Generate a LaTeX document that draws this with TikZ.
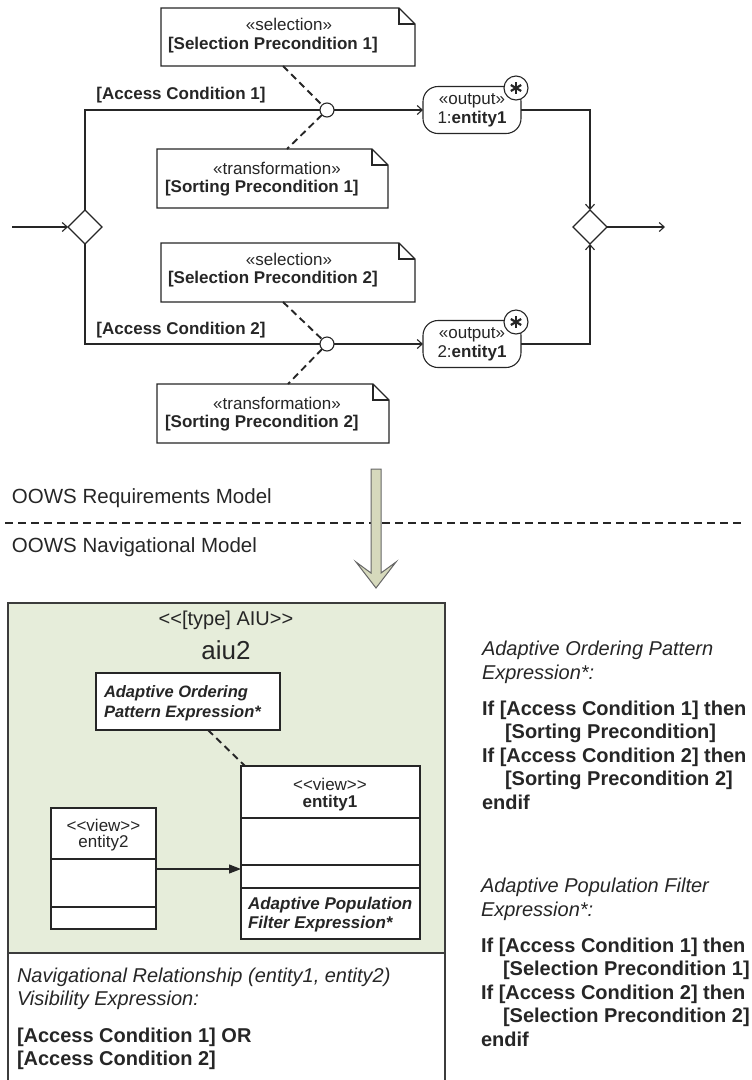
\documentclass[tikz,border=0pt]{standalone}
\usepackage{fontspec}
\setmainfont{Liberation Sans}
\usetikzlibrary{arrows.meta,shapes.geometric,calc}
\definecolor{aiugreen}{HTML}{E6EDDA}
\definecolor{arrowfill}{HTML}{D6D9BC}
\definecolor{ink}{HTML}{262626}
\newcommand\dlt{<\kern0pt<}
\newcommand\dgt{>\kern0pt>}
\newcommand\fs[2]{\fontsize{#1}{#2}\selectfont}
\newcommand\notefold[1]{%
  \draw[line, fill=white] (#1.north west) -- ([xshift=-16pt]#1.north east) -- ([yshift=-16pt]#1.north east) -- (#1.south east) -- (#1.south west) -- cycle;
  \draw[line] ([xshift=-16pt]#1.north east) -- ([xshift=-16pt,yshift=-16pt]#1.north east) -- ([yshift=-16pt]#1.north east);}
\newcommand\multstar[1]{%
  \draw[ink, line width=2.2pt] ([yshift=6pt]#1.center) -- ([yshift=-6pt]#1.center);
  \draw[ink, line width=2.2pt] ($(#1.center)+(30:6)$) -- ($(#1.center)+(210:6)$);
  \draw[ink, line width=2.2pt] ($(#1.center)+(150:6)$) -- ($(#1.center)+(330:6)$);}
\begin{document}
\begin{tikzpicture}[x=1pt,y=-1pt,
  every node/.style={inner sep=0pt, outer sep=0pt, text=ink},
  line/.style={draw=ink, line width=1.1pt},
  flow/.style={line, -{Straight Barb[length=5pt,width=9pt]}},
  dline/.style={draw=ink, line width=1.9pt, dash pattern=on 7pt off 4.5pt},
  decision/.style={diamond, draw=ink, line width=1.1pt, fill=white, minimum width=34pt, minimum height=34pt, aspect=1},
  fork/.style={circle, draw=ink, line width=1.1pt, fill=white, minimum size=14pt},
  pin/.style={rectangle, rounded corners=15pt, draw=ink, line width=1.1pt, fill=white, minimum width=98pt, minimum height=47pt, align=center, font=\fs{17}{19}},
  mult/.style={circle, draw=ink, line width=1.1pt, fill=white, minimum size=24pt},
  stereo/.style={font=\fs{17}{19}},
  boldtxt/.style={font=\bfseries\fs{17}{19}},
  classbox/.style={rectangle, draw=ink, line width=1.1pt, fill=white},
  bigtxt/.style={font=\fs{20}{23.5}, anchor=west, align=left}]
\useasboundingbox (0,0) rectangle (752,1080);

% ---------- activity part ----------
\node[decision] (d1) at (85,227) {};
\coordinate (start) at (12,227);
\draw[flow] (start) -- (d1.west);

\node[fork] (f1) at (327,110) {};
\node[fork] (f2) at (327,344) {};
\draw[line] (d1.north) |- (f1.west);
\draw[line] (d1.south) |- (f2.west);

\node[boldtxt] (ac1) at (181,95) {[Access Condition 1]};
\node[boldtxt] (ac2) at (181,330.5) {[Access Condition 2]};

\node[pin] (o1) at (472,110) {«output»\\1:\textbf{entity1}};
\node[mult] (m1) at (516,88) {}; \multstar{m1}
\node[pin] (o2) at (472,344) {«output»\\2:\textbf{entity1}};
\node[mult] (m2) at (516,322) {}; \multstar{m2}

\draw[flow] (f1.east) -- (o1.west);
\draw[flow] (f2.east) -- (o2.west);
\node[decision] (d2) at (590,227) {};
\draw[flow] (o1.east) -| (d2.north);
\draw[flow] (o2.east) -| (d2.south);
\coordinate (end) at (665,227);
\draw[flow] (d2.east) -- (end);

% notes
\node[minimum width=254pt, minimum height=58pt] (sel1) at (288,37) {};
\notefold{sel1}
\node[stereo] (sel1s) at (289,24) {«selection»};
\node[boldtxt, anchor=west] (sel1t) at (168,45) {[Selection Precondition 1]};

\node[minimum width=231pt, minimum height=59pt] (sort1) at (272.5,178.5) {};
\notefold{sort1}
\node[stereo] (sort1s) at (277,168) {«transformation»};
\node[boldtxt, anchor=west] (sort1t) at (165,188) {[Sorting Precondition 1]};

\node[minimum width=254pt, minimum height=59pt] (sel2) at (288,272.5) {};
\notefold{sel2}
\node[stereo] (sel2s) at (289,259) {«selection»};
\node[boldtxt, anchor=west] (sel2t) at (168,279) {[Selection Precondition 2]};

\node[minimum width=232pt, minimum height=59pt] (sort2) at (273,413.5) {};
\notefold{sort2}
\node[stereo] (sort2s) at (277,403) {«transformation»};
\node[boldtxt, anchor=west] (sort2t) at (165,423) {[Sorting Precondition 2]};

\draw[dline] ([xshift=-5pt]sel1.south) -- (f1);
\draw[dline] (f1) -- ([xshift=14.5pt]sort1.north);
\draw[dline] ([xshift=-5pt]sel2.south) -- (f2);
\draw[dline] (f2) -- ([xshift=15pt]sort2.north);

% ---------- model separator ----------
\node[font=\fs{20.5}{23}, anchor=west] (req) at (12,498) {OOWS Requirements Model};
\node[font=\fs{20.5}{23}, anchor=west] (nav) at (12,547) {OOWS Navigational Model};
\draw[ink, line width=1.7pt, dash pattern=on 8pt off 5pt] (5,523) -- (745,523);
\draw[draw=black!60, fill=arrowfill, line width=1pt, line join=miter]
  (371,469) -- (371,573) -- (356,562) -- (376,588) -- (396,562) -- (381,573) -- (381,469) -- cycle;

% ---------- AIU ----------
\node[draw=ink!90, line width=1.2pt, fill=aiugreen, minimum width=437pt, minimum height=350pt] (aiu) at (226.5,778) {};
\node[draw=ink!90, line width=1.2pt, fill=white, minimum width=437pt, minimum height=150pt] (vis) at (226.5,1028) {};
\node[font=\fs{20}{22}] (aiut) at (226,620) {\dlt[type] AIU\dgt};
\node[font=\fs{26}{28}] (aiun) at (226,650) {aiu2};

\node[classbox, minimum width=184pt, minimum height=57pt] (ord) at (188,701.5) {};
\node[font=\bfseries\itshape\fs{16.5}{20}, anchor=west, align=left] (ordt) at (104,703.7) {Adaptive Ordering\\Pattern Expression*};

\node[classbox, minimum width=179pt, minimum height=173pt] (e1) at (330.5,852.5) {};
\draw[line] (e1.west |- 0,818) -- (e1.east |- 0,818);
\draw[line] (e1.west |- 0,865) -- (e1.east |- 0,865);
\draw[line] (e1.west |- 0,888) -- (e1.east |- 0,888);
\node[stereo] (e1s) at (330,784) {\dlt view\dgt};
\node[boldtxt] (e1n) at (330,803) {entity1};
\node[font=\bfseries\itshape\fs{17}{19}, anchor=west, align=left] (e1f) at (248,914.3) {Adaptive Population\\Filter Expression*};

\node[classbox, minimum width=105pt, minimum height=121pt] (e2) at (103.5,868.5) {};
\draw[line] (e2.west |- 0,859) -- (e2.east |- 0,859);
\draw[line] (e2.west |- 0,907) -- (e2.east |- 0,907);
\node[stereo] (e2s) at (103.5,825) {\dlt view\dgt};
\node[stereo] (e2n) at (103.5,843) {entity2};

\draw[line, -{Triangle[length=12pt,width=9pt]}] (e2.east |- 0,869) -- (e1.west |- 0,869);
\draw[dline] ([xshift=20pt]ord.south) -- ([xshift=4pt]e1.north west);

\node[bigtxt, font=\itshape\fs{20}{23.5}] (visl) at (17,988.7) {Navigational Relationship (entity1, entity2)\\Visibility Expression:};
\node[bigtxt, font=\bfseries\fs{20}{23}] (vise) at (17,1048.5) {[Access Condition 1] OR\\{}[Access Condition 2]};

% ---------- right-hand expressions ----------
\node[bigtxt, font=\itshape\fs{20}{24}] (aoh) at (482,662) {Adaptive Ordering Pattern\\Expression*:};
\node[bigtxt, font=\bfseries\fs{20}{23.5}] (aoc) at (482,755) {If [Access Condition 1] then\\\hspace*{23pt}[Sorting Precondition]\\If [Access Condition 2] then\\\hspace*{23pt}[Sorting Precondition 2]\\endif};
\node[bigtxt, font=\itshape\fs{20}{24}] (apf) at (481,899) {Adaptive Population Filter\\Expression*:};
\node[bigtxt, font=\bfseries\fs{20}{23.5}] (apc) at (481,992) {If [Access Condition 1] then\\\hspace*{22pt}[Selection Precondition 1]\\If [Access Condition 2] then\\\hspace*{22pt}[Selection Precondition 2]\\endif};
\end{tikzpicture}
\end{document}
